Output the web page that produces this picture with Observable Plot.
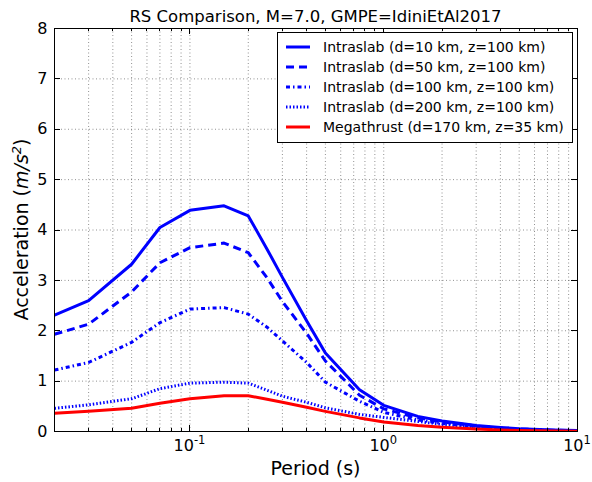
<!DOCTYPE html>
<html>
<head>
<meta charset="utf-8">
<script src="https://cdn.jsdelivr.net/npm/d3@7"></script>
<script src="https://cdn.jsdelivr.net/npm/@observablehq/plot@0.6"></script>
<style>
  html, body { margin: 0; padding: 0; background: #fff; }
  svg { display: block; }
</style>
</head>
<body>
<div id="chart"></div>
<script>
// ---- data ----
const periods = [0.02, 0.03, 0.05, 0.07, 0.1, 0.15, 0.2, 0.25, 0.3, 0.4, 0.5, 0.75, 1, 1.5, 2, 3, 4, 5, 7.5, 10];
const intraslabD10  = [2.31, 2.60, 3.32, 4.05, 4.39, 4.48, 4.28, 3.62, 3.06, 2.20, 1.56, 0.83, 0.52, 0.30, 0.21, 0.12, 0.08, 0.055, 0.03, 0.02];
const intraslabD50  = [1.93, 2.13, 2.77, 3.35, 3.65, 3.74, 3.55, 3.05, 2.58, 1.95, 1.40, 0.72, 0.45, 0.27, 0.19, 0.11, 0.07, 0.05, 0.025, 0.015];
const intraslabD100 = [1.22, 1.37, 1.77, 2.16, 2.43, 2.46, 2.33, 2.07, 1.80, 1.37, 0.98, 0.60, 0.38, 0.23, 0.16, 0.09, 0.06, 0.04, 0.02, 0.013];
const intraslabD200 = [0.46, 0.53, 0.65, 0.85, 0.96, 0.98, 0.96, 0.82, 0.70, 0.58, 0.47, 0.34, 0.28, 0.20, 0.14, 0.08, 0.05, 0.035, 0.018, 0.011];
const megathrust    = [0.36, 0.40, 0.46, 0.56, 0.65, 0.71, 0.71, 0.64, 0.58, 0.48, 0.40, 0.27, 0.19, 0.12, 0.085, 0.05, 0.03, 0.02, 0.01, 0.006];

const seriesNames = [
  "Intraslab (d=10 km, z=100 km)",
  "Intraslab (d=50 km, z=100 km)",
  "Intraslab (d=100 km, z=100 km)",
  "Intraslab (d=200 km, z=100 km)",
  "Megathrust (d=170 km, z=35 km)"
];
const seriesValues = [intraslabD10, intraslabD50, intraslabD100, intraslabD200, megathrust];

// styles (kept apart from the data)
const seriesColors = ["#0000ff", "#0000ff", "#0000ff", "#0000ff", "#ff0000"];
const seriesDash   = [null, "8,5", "4,3,1.5,3", "1.5,2", null];

const titleText = "RS Comparison, M=7.0, GMPE=IdiniEtAl2017";
const xLabelText = "Period (s)";
const xMajorTicks = [0.1, 1, 10];
const xMajorExponents = ["-1", "0", "1"];
const yTicks = [0, 1, 2, 3, 4, 5, 6, 7, 8];

// minor tick values for the log axis (2..9 x decade)
const xMinorTicks = [];
for (const dec of [0.01, 0.1, 1]) for (let k = 2; k <= 9; k++) {
  const v = +(k * dec).toPrecision(3);
  if (v >= 0.02 && v <= 10) xMinorTicks.push(v);
}
const xGridTicks = [...xMinorTicks, ...xMajorTicks].filter(v => v > 0.02 && v < 10);
const yGridTicks = yTicks.filter(v => v > 0 && v < 8);

const tables = seriesValues.map((vals, i) =>
  periods.map((p, j) => ({period: p, acc: vals[j], series: seriesNames[i]})));

const W = 592, H = 482;
const mL = 54, mR = 15, mT = 28, mB = 51;
const FONT = "DejaVu Sans, sans-serif";

const lineMarks = tables.map((t, i) => Plot.line(t, {
  x: "period", y: "acc",
  stroke: seriesColors[i], strokeWidth: 3,
  strokeDasharray: seriesDash[i] ?? undefined,
  strokeLinecap: "butt", strokeLinejoin: "round",
  clip: true
}));

const plot = Plot.plot({
  width: W, height: H,
  marginLeft: mL, marginRight: mR, marginTop: mT, marginBottom: mB,
  style: {fontFamily: FONT, background: "#fff", color: "#000"},
  x: {type: "log", domain: [0.02, 10], axis: null},
  y: {domain: [0, 8], axis: null},
  marks: [
    Plot.ruleX(xGridTicks, {stroke: "#000", strokeOpacity: 0.55, strokeWidth: 0.8, strokeDasharray: "1,2.5"}),
    Plot.ruleY(yGridTicks, {stroke: "#000", strokeOpacity: 0.55, strokeWidth: 0.8, strokeDasharray: "1,2.5"}),
    ...lineMarks,
    Plot.axisY({ticks: yTicks, tickFormat: d => String(d), tickSize: 0, tickPadding: 7, fontSize: 16, label: null}),
    Plot.frame({stroke: "#000", strokeWidth: 1})
  ]
});

document.getElementById("chart").appendChild(plot);

const svg = d3.select(plot);
const xs = plot.scale("x"), ys = plot.scale("y");
const x0 = mL, x1 = W - mR, y0 = H - mB, y1 = mT;

// inward ticks (classic matplotlib style)
const tg = svg.append("g").attr("stroke", "#000").attr("stroke-width", 1);
for (const v of xMajorTicks) {
  const px = Math.round(xs.apply(v)) + 0.5;
  tg.append("line").attr("x1", px).attr("x2", px).attr("y1", y0).attr("y2", y0 - 6);
  tg.append("line").attr("x1", px).attr("x2", px).attr("y1", y1).attr("y2", y1 + 6);
}
for (const v of xMinorTicks) {
  const px = Math.round(xs.apply(v)) + 0.5;
  tg.append("line").attr("x1", px).attr("x2", px).attr("y1", y0).attr("y2", y0 - 3);
  tg.append("line").attr("x1", px).attr("x2", px).attr("y1", y1).attr("y2", y1 + 3);
}
for (const v of yTicks) {
  const py = Math.round(ys.apply(v)) + 0.5;
  tg.append("line").attr("x1", x0).attr("x2", x0 + 6).attr("y1", py).attr("y2", py);
  tg.append("line").attr("x1", x1).attr("x2", x1 - 6).attr("y1", py).attr("y2", py);
}

// x tick labels, placed with the library's x scale
const xl = svg.append("g").style("font-family", FONT).attr("fill", "#000");
xMajorTicks.forEach((v, i) => {
  const t = xl.append("text").attr("x", xs.apply(v)).attr("y", 451)
    .attr("text-anchor", "middle").style("font-size", "16px");
  t.append("tspan").text("10");
  t.append("tspan").attr("dy", -7).style("font-size", "11.5px").text(xMajorExponents[i]);
});

// title
svg.append("text")
  .attr("x", (x0 + x1) / 2).attr("y", 22)
  .attr("text-anchor", "middle")
  .style("font-family", FONT).style("font-size", "16.5px").attr("fill", "#000")
  .text(titleText);

// x label
svg.append("text")
  .attr("x", (x0 + x1) / 2).attr("y", 475)
  .attr("text-anchor", "middle")
  .style("font-family", FONT).style("font-size", "19px").attr("fill", "#000")
  .text(xLabelText);

// y label with math part
const yl = svg.append("text")
  .attr("transform", `translate(28,${(y0 + y1) / 2}) rotate(-90)`)
  .attr("text-anchor", "middle")
  .style("font-family", FONT).style("font-size", "19px").attr("fill", "#000");
yl.append("tspan").text("Acceleration (");
yl.append("tspan").style("font-style", "italic").text("m/s");
yl.append("tspan").attr("dy", -7).style("font-size", "13px").style("font-style", "italic").text("2");
yl.append("tspan").attr("dy", 7).text(")");

// legend
const lg = svg.append("g").attr("text-anchor", "start");
lg.append("rect").attr("x", 277.5).attr("y", 32.5).attr("width", 295).attr("height", 110)
  .attr("fill", "#fff").attr("stroke", "#000").attr("stroke-width", 1);
seriesNames.forEach((name, i) => {
  const cy = 47 + i * 20;
  const ln = lg.append("line").attr("x1", 286).attr("x2", 310).attr("y1", cy).attr("y2", cy)
    .attr("stroke", seriesColors[i]).attr("stroke-width", 3).attr("stroke-linecap", "butt");
  if (seriesDash[i]) ln.attr("stroke-dasharray", seriesDash[i]);
  lg.append("text").attr("x", 323).attr("y", cy + 5).attr("text-anchor", "start")
    .style("font-family", FONT).style("font-size", "14px").attr("fill", "#000")
    .text(name);
});
</script>
</body>
</html>
